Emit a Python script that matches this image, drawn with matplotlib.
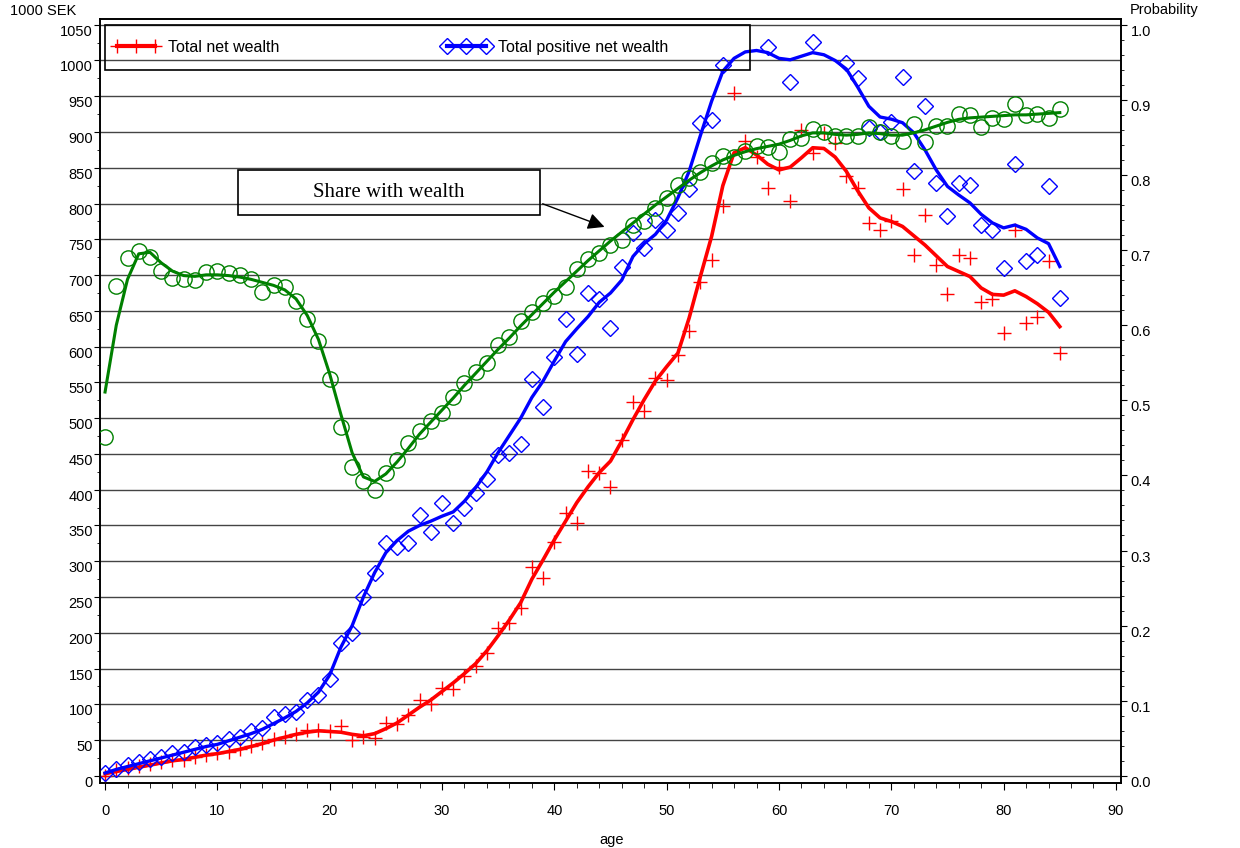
import numpy as np
import matplotlib.pyplot as plt
from matplotlib.lines import Line2D
from matplotlib.patches import Rectangle
from matplotlib.ticker import MultipleLocator, FormatStrFormatter

plt.rcParams['font.family'] = ['Liberation Sans', 'DejaVu Sans']

age = np.arange(0, 86)

# total net wealth, 1000 SEK (red crosses) and its smoothed curve
net_wealth = [0, 8, 11, 14, 17, 20, 22, 22, 27, 29, 32, 34, 38, 42, 46, 52, 55, 59, 64, 64,
              63, 69, 50, 55, 53, 74, 73, 85, 106, 100, 123, 121, 140, 154, 172, 207, 214, 235, 292, 277,
              327, 367, 354, 426, 424, 404, 470, 523, 510, 556, 553, 589, 622, 691, 721, 796, 955, 888, 865, 822,
              851, 804, 903, 871, 899, 884, 838, 822, 773, 763, 775, 821, 728, 784, 714, 673, 728, 724, 663, 666,
              619, 763, 633, 642, 720, 591]
net_wealth_fit = [3, 6, 9, 12, 15, 18, 21, 23, 26, 29, 31, 34, 37, 41, 45, 50, 54, 58, 61, 63,
                  62, 61, 58, 56, 59, 66, 74, 85, 96, 106, 118, 130, 143, 157, 175, 196, 218, 242, 275, 302,
                  330, 356, 382, 404, 424, 440, 468, 498, 526, 552, 572, 591, 640, 698, 754, 825, 871, 878, 868, 855,
                  847, 851, 864, 878, 877, 865, 845, 818, 794, 780, 775, 768, 755, 742, 727, 712, 705, 698, 682, 673,
                  672, 678, 670, 660, 648, 628]

# total positive net wealth, 1000 SEK (blue diamonds); nan = above the plot area
pos_wealth = [4, 10, 15, 20, 24, 27, 32, 34, 40, 43, 46, 52, 55, 62, 67, 82, 87, 89, 106, 113,
              136, 186, 199, 250, 284, 326, 320, 326, 364, 341, 382, 354, 375, 396, 415, 449, 452, 464, 555, 516,
              586, 639, 590, 675, 667, 626, 712, 759, 738, 777, 763, 787, 821, 912, 917, 993, np.nan, np.nan, np.nan, 1019,
              np.nan, 970, np.nan, 1026, np.nan, np.nan, 997, 976, 906, 900, 914, 977, 846, 937, 829, 782, 829, 826, 770, 763,
              710, 856, 720, 728, 825, 668]
pos_wealth_fit = [4, 9, 13, 17, 21, 25, 29, 33, 37, 41, 44, 49, 54, 59, 65, 73, 81, 90, 102, 117,
                  141, 180, 210, 250, 284, 312, 329, 342, 350, 356, 363, 369, 384, 403, 425, 452, 476, 500, 529, 552,
                  580, 607, 625, 642, 662, 675, 693, 726, 744, 757, 777, 808, 845, 895, 943, 985, 1003, 1012, 1014, 1011,
                  1003, 1001, 1006, 1011, 1008, 1000, 988, 963, 936, 921, 918, 913, 899, 875, 847, 824, 812, 801, 785, 773,
                  766, 770, 764, 752, 744, 712]

# share with wealth, probability (green circles) and its smoothed curve
share = [0.451, 0.652, 0.689, 0.699, 0.691, 0.672, 0.663, 0.661, 0.660, 0.671,
         0.672, 0.669, 0.667, 0.661, 0.644, 0.653, 0.651, 0.632, 0.608, 0.579,
         0.528, 0.465, 0.411, 0.392, 0.381, 0.403, 0.420, 0.443, 0.459, 0.472,
         0.483, 0.504, 0.523, 0.537, 0.549, 0.573, 0.584, 0.605, 0.617, 0.629,
         0.639, 0.651, 0.675, 0.688, 0.696, 0.707, 0.713, 0.733, 0.739, 0.756,
         0.769, 0.787, 0.796, 0.804, 0.816, 0.825, 0.824, 0.832, 0.839, 0.837,
         0.831, 0.848, 0.849, 0.861, 0.857, 0.852, 0.852, 0.852, 0.864, 0.857,
         0.852, 0.845, 0.868, 0.844, 0.865, 0.865, 0.881, 0.880, 0.864, 0.876,
         0.875, 0.895, 0.880, 0.881, 0.876, 0.888]
share_fit = [0.511, 0.600, 0.661, 0.695, 0.697, 0.683, 0.672, 0.666, 0.665, 0.667,
             0.667, 0.666, 0.664, 0.661, 0.657, 0.653, 0.647, 0.635, 0.613, 0.581,
             0.535, 0.481, 0.430, 0.398, 0.392, 0.402, 0.418, 0.436, 0.455, 0.471,
             0.487, 0.503, 0.520, 0.536, 0.552, 0.568, 0.583, 0.599, 0.614, 0.629,
             0.644, 0.658, 0.672, 0.686, 0.699, 0.712, 0.724, 0.736, 0.748, 0.760,
             0.771, 0.782, 0.793, 0.803, 0.812, 0.820, 0.826, 0.831, 0.835, 0.838,
             0.841, 0.846, 0.852, 0.856, 0.856, 0.854, 0.853, 0.854, 0.856, 0.855,
             0.853, 0.853, 0.856, 0.860, 0.865, 0.870, 0.874, 0.876, 0.877, 0.878,
             0.879, 0.880, 0.880, 0.881, 0.882, 0.883]

red = '#ff0000'
blue = '#0000ff'
green = '#008000'

fig = plt.figure(figsize=(12.4, 8.48), dpi=100)
ax = fig.add_axes([100 / 1240, 1 - 783 / 848, 1021 / 1240, 764 / 848])
ax2 = ax.twinx()

ax.set_xlim(-0.45, 90.45)
ax.set_ylim(-10, 1058)
ax2.set_ylim(-10 / 1050, 1058 / 1050)

for v in range(0, 1051, 50):
    ax.axhline(v, color='#444444', lw=1, zorder=0)

ax.plot(age, net_wealth_fit, color=red, lw=2.6, zorder=3)
ax.plot(age, net_wealth, ls='none', marker='+', ms=10.5, mew=1, color=red, zorder=3)
ax.plot(age, pos_wealth_fit, color=blue, lw=2.4, zorder=3)
ax.plot(age, pos_wealth, ls='none', marker='D', ms=8.5, mew=1, mfc='none', mec=blue, zorder=3)
ax2.plot(age, share_fit, color=green, lw=2.2, zorder=3)
ax2.plot(age, share, ls='none', marker='o', ms=11, mew=1, mfc='none', mec=green, zorder=3)

ax.xaxis.set_major_locator(MultipleLocator(10))
ax.xaxis.set_minor_locator(MultipleLocator(2))
ax.yaxis.set_major_locator(MultipleLocator(50))
ax.yaxis.set_minor_locator(MultipleLocator(25))
ax2.yaxis.set_major_locator(MultipleLocator(0.1))
ax2.yaxis.set_minor_locator(MultipleLocator(0.02))
ax2.yaxis.set_major_formatter(FormatStrFormatter('%.1f'))

ax.tick_params(axis='x', which='major', length=5, pad=10, labelsize=10.5)
ax.tick_params(axis='x', which='minor', length=3.5)
ax.tick_params(axis='y', which='major', length=4, pad=1, labelsize=10.5)
ax.tick_params(axis='y', which='minor', length=2.5)
ax2.tick_params(axis='y', which='major', length=4, pad=3, labelsize=10.5)
ax2.tick_params(axis='y', which='minor', length=2.5)
plt.setp(ax.get_yticklabels(), va='top')
plt.setp(ax2.get_yticklabels(), va='top')
for a in (ax, ax2):
    for s in a.spines.values():
        s.set_linewidth(1.2)

# annotation box with arrow
ax.add_patch(Rectangle((11.84, 784), 26.9, 63, fill=False, ec='black', lw=1.2, zorder=5))
ax.text(25.3, 815, 'Share with wealth', ha='center', va='center', fontsize=15,
        family='Liberation Serif', zorder=6)
ax.annotate('', xy=(44.7, 766), xytext=(38.73, 801),
            arrowprops=dict(arrowstyle='-|>', color='black', lw=1, mutation_scale=25), zorder=6)

# legend: frame drawn as an open patch, entries placed inside it
ax.add_patch(Rectangle((0.005, 0.9332), 0.632, 0.0589, transform=ax.transAxes, fill=False,
                       ec='black', lw=1.2, zorder=6))
handles = [Line2D([], [], color=red, lw=3, marker='+', ms=10.5, mew=1),
           Line2D([], [], color=blue, lw=3, marker='D', ms=8.5, mew=1, mfc='none', mec=blue)]
leg = ax.legend(handles, ['Total net wealth', 'Total positive net wealth'], ncol=2,
                loc='center left', bbox_to_anchor=(0.012, 0.9626), borderaxespad=0, borderpad=0,
                fontsize=11.5, numpoints=3, handlelength=3.0, handletextpad=0.5,
                columnspacing=10.2, frameon=False)
leg.set_zorder(7)

fig.text(10 / 1240, 1 - 11 / 848, '1000 SEK', ha='left', va='center', fontsize=10.5)
fig.text(1130 / 1240, 1 - 10 / 848, 'Probability', ha='left', va='center', fontsize=10.5)
fig.text(612 / 1240, 1 - 840 / 848, 'age', ha='center', va='center', fontsize=10.5)

fig.savefig('out.png', dpi=100)
